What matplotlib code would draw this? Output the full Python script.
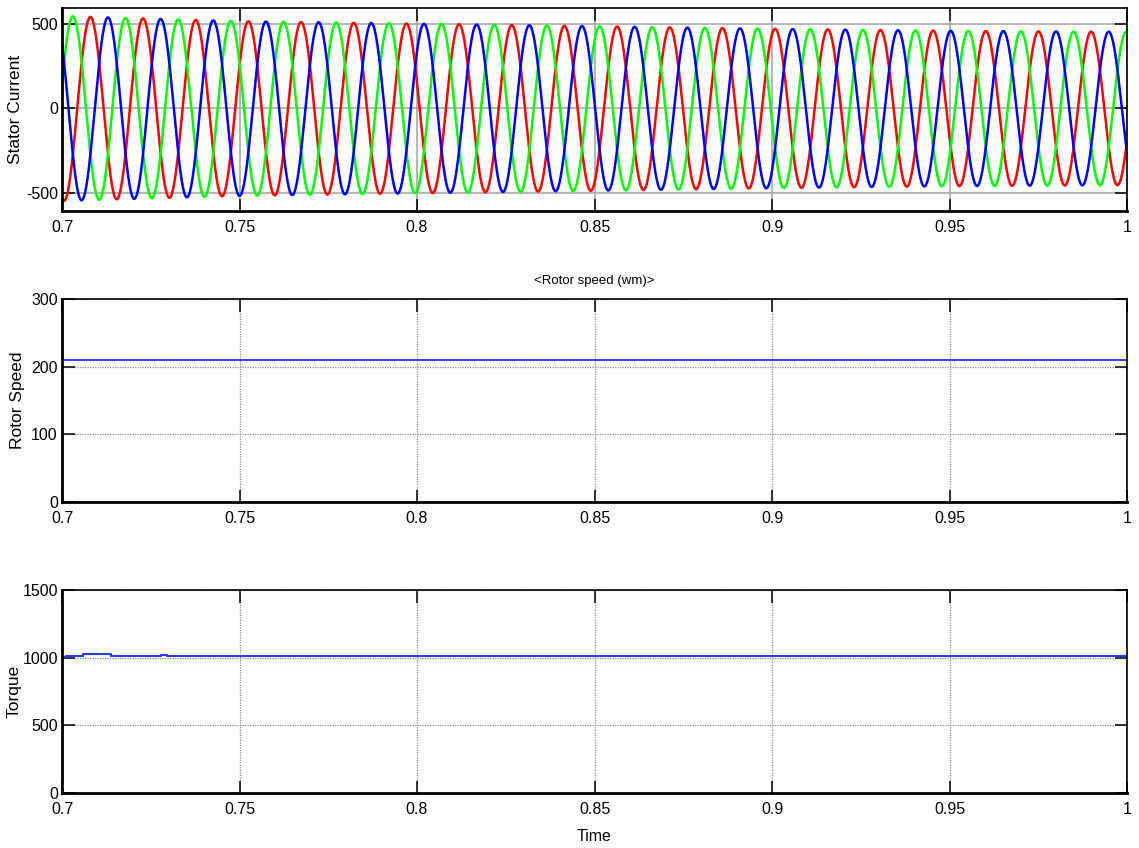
import numpy as np
import matplotlib
matplotlib.use("Agg")
import matplotlib.pyplot as plt
from matplotlib import font_manager

# ---------------- data ----------------
x_ticks = [0.7, 0.75, 0.8, 0.85, 0.9, 0.95, 1.0]
x_tick_labels = ["0.7", "0.75", "0.8", "0.85", "0.9", "0.95", "1"]

# stator current: three-phase waveform parameters
current_freq_hz = 67.4          # from peak spacing
red_first_peak_t = 0.7080       # red phase first positive peak
phase_names = ["red", "green", "blue"]
phase_colors = ["#ff0000", "#00ff00", "#0000ff"]
phase_offsets_deg = [0.0, 120.0, -120.0]   # green leads red, blue lags red
# amplitude envelope read from peaks
env_t = [0.70, 0.75, 0.80, 0.85, 0.90, 0.95, 1.00]
env_amp = [545, 515, 500, 485, 470, 458, 452]
current_yticks = [-500, 0, 500]

# rotor speed
speed_t = [0.7, 1.0]
speed_v = [210, 210]
speed_yticks = [0, 100, 200, 300]

# torque (step-like trace)
torque_t = [0.7, 0.7012, 0.7058, 0.7138, 0.7280, 0.7295, 1.0]
torque_v = [1003, 1008, 1024, 1008, 1022, 1008, 1008]
torque_yticks = [0, 500, 1000, 1500]

# ---------------- styling ----------------
names = {f.name for f in font_manager.fontManager.ttflist}
narrow = "Liberation Sans Narrow" if "Liberation Sans Narrow" in names else "Liberation Sans"
regular = "Liberation Sans"
plt.rcParams["font.family"] = [narrow, "DejaVu Sans"]

W, H = 1139, 848
fig = plt.figure(figsize=(W / 100, H / 100), dpi=100)

def box(left, top, right, bottom):
    return [left / W, 1 - bottom / H, (right - left) / W, (bottom - top) / H]

ax1 = fig.add_axes(box(62, 8.3, 1127, 210.7))
ax2 = fig.add_axes(box(62, 299, 1127, 501.7))
ax3 = fig.add_axes(box(62, 590, 1127, 792.7))

# ---------------- stator current ----------------
t = np.linspace(0.7, 1.0, 12000)
amp = np.interp(t, env_t, env_amp)
w = 2 * np.pi * current_freq_hz
for name, col, off in zip(phase_names, phase_colors, phase_offsets_deg):
    y = amp * np.cos(w * (t - red_first_peak_t) + np.deg2rad(off))
    ax1.plot(t, y, color=col, lw=1.8, solid_capstyle="butt")
ax1.set_ylim(-603, 591)
ax1.set_yticks(current_yticks)
ax1.set_yticklabels([str(v) for v in current_yticks])
ax1.grid(True, color="#a0a0a0", lw=1.1, ls="-")

# ---------------- rotor speed ----------------
ax2.plot(speed_t, speed_v, color="#1a1aff", lw=1.2)
ax2.set_ylim(0, 300)
ax2.set_yticks(speed_yticks)
ax2.set_yticklabels([str(v) for v in speed_yticks])
ax2.grid(True, color="#8c8c8c", lw=0.9, ls=(0, (1, 1)))
ax2.set_title("<Rotor speed (wm)>", fontsize=9.5, family=[regular, "DejaVu Sans"], pad=11)

# ---------------- torque ----------------
ax3.plot(torque_t, torque_v, color="#2b3cff", lw=1.5, drawstyle="steps-post")
ax3.set_ylim(0, 1500)
ax3.set_yticks(torque_yticks)
ax3.set_yticklabels([str(v) for v in torque_yticks])
ax3.grid(True, color="#8c8c8c", lw=0.9, ls=(0, (1, 1)))
ax3.set_xlabel("Time", fontsize=11.5, labelpad=8)

ylabels = ["Stator Current", "Rotor Speed", "Torque"]
label_x = [16, 18, 14]
for ax, lab, lx in zip([ax1, ax2, ax3], ylabels, label_x):
    ax.set_xlim(0.7, 1.0)
    ax.set_xticks(x_ticks)
    ax.set_xticklabels(x_tick_labels)
    ax.set_axisbelow(True)
    ax.tick_params(direction="in", length=9, width=1.1, top=True, right=True,
                   labelsize=11.5, colors="black")
    ax.tick_params(axis="x", pad=7)
    ax.tick_params(axis="y", pad=3)
    ax.set_ylabel(lab, fontsize=12.5, family=[regular, "DejaVu Sans"])
    ax.yaxis.label.set_va("center")
    ax.yaxis.set_label_coords((lx - 62) / 1065, 0.5)
    for s in ["left", "bottom"]:
        ax.spines[s].set_linewidth(2.0)
    for s in ["top", "right"]:
        ax.spines[s].set_linewidth(1.2)

fig.savefig("out.png", dpi=100)
